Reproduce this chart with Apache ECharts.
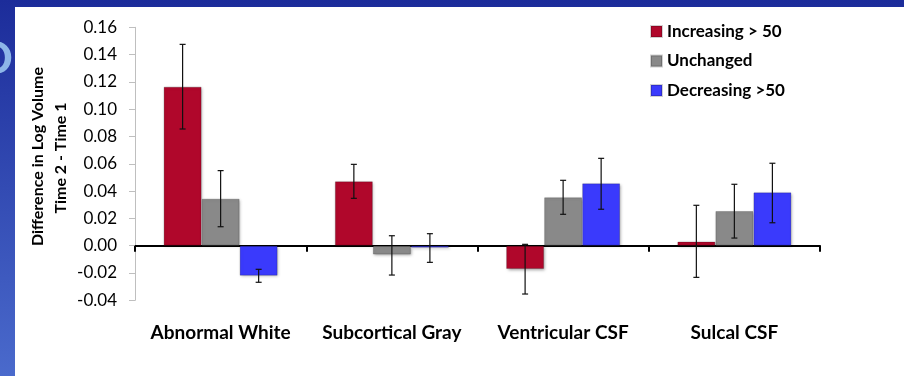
<!DOCTYPE html>
<html>
<head>
<meta charset="utf-8">
<script src="https://cdn.jsdelivr.net/npm/echarts@6/dist/echarts.min.js"></script>
<style>
html,body{margin:0;padding:0;background:#fff;}
#chart{width:904px;height:376px;}
</style>
</head>
<body>
<div id="chart"></div>
<script>
const categories = ['Abnormal White', 'Subcortical Gray', 'Ventricular CSF', 'Sulcal CSF'];
const seriesNames = ['Increasing > 50', 'Unchanged', 'Decreasing >50'];
const increasing = [0.1165, 0.0472, -0.0171, 0.0030];
const unchanged = [0.0344, -0.0065, 0.0355, 0.0254];
const decreasing = [-0.0220, -0.0015, 0.0457, 0.0391];
const increasingErrLow = [0.0855, 0.0347, -0.0354, -0.0232];
const increasingErrHigh = [0.1475, 0.0596, 0.0010, 0.0296];
const unchangedErrLow = [0.0139, -0.0215, 0.0230, 0.0056];
const unchangedErrHigh = [0.0550, 0.0073, 0.0479, 0.0450];
const decreasingErrLow = [-0.0268, -0.0122, 0.0267, 0.0168];
const decreasingErrHigh = [-0.0173, 0.0088, 0.0640, 0.0604];
const yTicks = [-0.04, -0.02, 0.00, 0.02, 0.04, 0.06, 0.08, 0.10, 0.12, 0.14, 0.16];

const colors = ['#B0072B', '#898989', '#3A3AFC'];
const values = [increasing, unchanged, decreasing];
const lows = [increasingErrLow, unchangedErrLow, decreasingErrLow];
const highs = [increasingErrHigh, unchangedErrHigh, decreasingErrHigh];
const catGap = 0.334;
const FONT = 'Lato';

const chart = echarts.init(document.getElementById('chart'), null, {renderer: 'canvas'});

const barSeries = seriesNames.map((name, i) => ({
  name: name,
  type: 'bar',
  xAxisIndex: 0,
  barGap: '0%',
  barCategoryGap: (catGap * 100) + '%',
  data: values[i],
  itemStyle: {
    color: colors[i],
    borderColor: 'rgba(0,0,0,0.18)',
    borderWidth: 1,
    shadowColor: 'rgba(0,0,0,0.35)',
    shadowBlur: 3,
    shadowOffsetX: 1,
    shadowOffsetY: 1
  },
  emphasis: {disabled: true},
  z: 2
}));

const errSeries = seriesNames.map((name, i) => ({
  type: 'custom',
  xAxisIndex: 0,
  silent: true,
  z: 5,
  data: categories.map((c, k) => [k, lows[i][k], highs[i][k]]),
  encode: {x: 0, y: [1, 2]},
  renderItem: function (params, api) {
    const k = api.value(0);
    const band = api.size([1, 0])[0];
    const bw = band * (1 - catGap) / 3;
    const lo = api.coord([k, api.value(1)]);
    const hi = api.coord([k, api.value(2)]);
    const x = lo[0] + (i - 1) * bw;
    const cap = 3;
    const st = {stroke: '#111', lineWidth: 1.2};
    return {
      type: 'group',
      children: [
        {type: 'line', shape: {x1: x, y1: hi[1], x2: x, y2: lo[1]}, style: st},
        {type: 'line', shape: {x1: x - cap, y1: hi[1], x2: x + cap, y2: hi[1]}, style: st},
        {type: 'line', shape: {x1: x - cap, y1: lo[1], x2: x + cap, y2: lo[1]}, style: st}
      ]
    };
  }
}));

const option = {
  animation: false,
  backgroundColor: 'transparent',
  graphic: [
    {type: 'rect', z: -20, shape: {x: 0, y: 0, width: 904, height: 376},
      style: {fill: new echarts.graphic.LinearGradient(0, 0, 0, 1, [
        {offset: 0, color: '#1C2C9A'}, {offset: 1, color: '#4A6ACC'}])}},
    {type: 'text', z: -15, x: -22, y: 36,
      style: {text: 'D', fill: '#8DB6E8', font: 'bold 46px ' + FONT}},
    {type: 'rect', z: -10, shape: {x: 15, y: 7, width: 889, height: 369}, style: {fill: '#ffffff'}},
    {type: 'text', z: 10, x: 37.5, y: 156.5, rotation: Math.PI / 2,
      style: {text: 'Difference in Log Volume', fill: '#000', font: 'bold 16px ' + FONT,
        textAlign: 'center', textVerticalAlign: 'middle'}},
    {type: 'text', z: 10, x: 61, y: 158, rotation: Math.PI / 2,
      style: {text: 'Time 2 - Time 1', fill: '#000', font: 'bold 16px ' + FONT,
        textAlign: 'center', textVerticalAlign: 'middle'}}
  ],
  legend: {
    orient: 'vertical',
    left: 645,
    top: 18,
    itemWidth: 11,
    itemHeight: 11,
    itemGap: 12.5,
    icon: 'rect',
    data: seriesNames,
    textStyle: {fontFamily: FONT, fontWeight: 'bold', fontSize: 17, color: '#000', lineHeight: 17}
  },
  grid: {left: 135, right: 84, top: 27.3, bottom: 75.7, containLabel: false},
  xAxis: [
    {
      type: 'category',
      data: categories,
      axisLine: {onZero: true, lineStyle: {color: '#000', width: 2}},
      axisTick: {show: true, length: 6, lineStyle: {color: '#000', width: 2}},
      axisLabel: {show: false},
      splitLine: {show: false}
    },
    {
      type: 'category',
      data: categories,
      position: 'bottom',
      axisLine: {show: false, onZero: false},
      axisTick: {show: false},
      axisLabel: {show: true, interval: 0, hideOverlap: false, margin: 23, fontFamily: FONT, fontWeight: 'bold', fontSize: 19, color: '#000'},
      splitLine: {show: false}
    }
  ],
  yAxis: {
    type: 'value',
    min: yTicks[0],
    max: yTicks[yTicks.length - 1],
    interval: 0.02,
    axisLine: {show: true, lineStyle: {color: '#BFBFBF', width: 1}},
    axisTick: {show: true, length: 6, lineStyle: {color: '#BFBFBF'}},
    axisLabel: {fontFamily: FONT, fontSize: 17, color: '#000', margin: 18,
      formatter: v => v.toFixed(2)},
    splitLine: {show: false}
  },
  series: barSeries.concat(errSeries)
};
chart.setOption(option);
</script>
</body>
</html>
